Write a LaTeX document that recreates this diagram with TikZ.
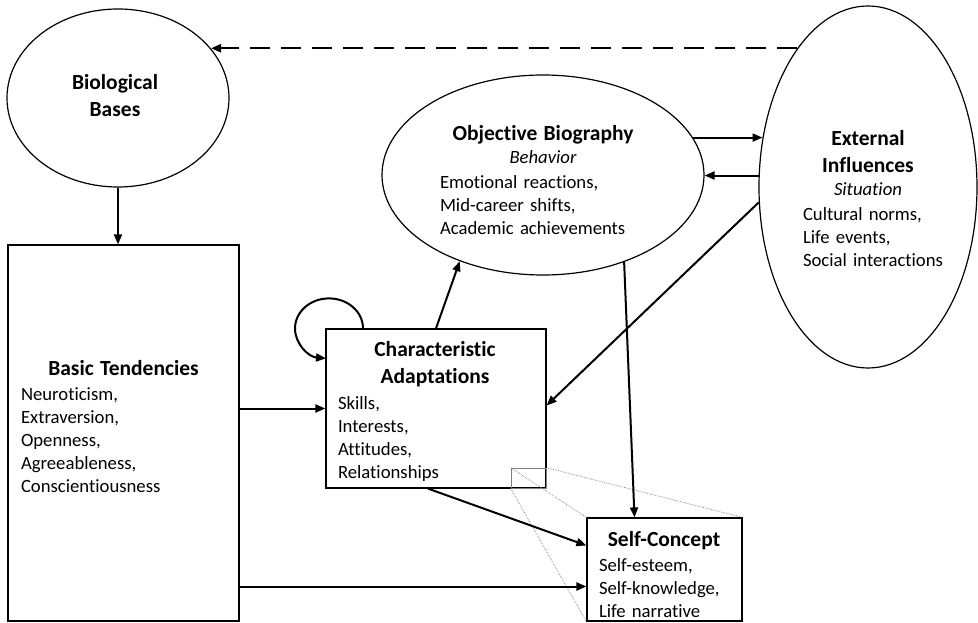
\documentclass[tikz,border=0pt]{standalone}
\usepackage{fontspec}
\setmainfont{Carlito}[Ligatures=NoCommon]
\usetikzlibrary{shapes.geometric,arrows.meta}

\newcommand\ttlfont{\fontsize{21.5}{27.5}\selectfont\bfseries}
\newcommand\txtfont{\fontsize{18.7}{23}\selectfont}
\newcommand\itemlines[1]{\vspace{2.5pt}\noindent\begin{tabular}[t]{@{}l@{}}#1\end{tabular}}

\tikzset{
  shp/.style={draw, line width=1.2pt, inner sep=0pt},
  oval/.style={shp, ellipse},
  box/.style={shp, rectangle},
  txt/.style={text width=#1, inner sep=0pt, anchor=north, font=\txtfont},
  conn/.style={line width=2pt, -{Triangle[length=10pt,width=8pt]}},
  zoomline/.style={gray, line width=0.7pt, densely dotted},
}

\begin{document}
\begin{tikzpicture}[x=1pt,y=-1pt]
\useasboundingbox (0,0) rectangle (978,623);

% shapes
\node[oval, minimum width=222, minimum height=178] (bio) at (118,98) {};
\node[box, minimum width=231, minimum height=376] (bt) at (123.5,433) {};
\node[box, minimum width=220, minimum height=159] (ca) at (436,408.5) {};
\node[box, minimum width=155, minimum height=103] (sc) at (664.5,569.5) {};
\node[oval, minimum width=322, minimum height=200] (ob) at (543,175) {};
\node[oval, minimum width=218, minimum height=362] (ei) at (868,187) {};

% texts
\node[txt=130] (biotext) at (115,74) {{\centering\ttlfont Biological\\Bases\par}};
\node[txt=205] (bttext) at (123.5,360) {{\centering\ttlfont Basic Tendencies\par}
  \itemlines{Neuroticism,\\Extraversion,\\Openness,\\Agreeableness,\\Conscientiousness}};
\node[txt=194] (catext) at (435,341) {{\centering\ttlfont Characteristic\\Adaptations\par}
  \itemlines{Skills,\\Interests,\\Attitudes,\\Relationships}};
\node[txt=130] (sctext) at (664,531) {{\centering\ttlfont Self-Concept\par}
  \itemlines{Self-esteem,\\Self-knowledge,\\Life narrative}};
\node[txt=206] (obtext) at (543,125) {{\centering{\ttlfont Objective Biography}\\\itshape Behavior\par}
  \itemlines{Emotional reactions,\\Mid-career shifts,\\Academic achievements}};
\node[txt=130] (eitext) at (868,130) {{\centering{\ttlfont External\\[4pt]Influences}\\\itshape Situation\par}
  \itemlines{Cultural norms,\\Life events,\\Social interactions}};

% zoom callout
\node[draw, gray, line width=0.8pt, inner sep=0pt, minimum width=35, minimum height=20,
  anchor=south east] (zm) at (ca.south east) {};
\draw[zoomline] (zm.north west) -- (sc.north west)
  (zm.north east) -- (sc.north east)
  (zm.south west) -- (sc.south west);

% connectors
\draw[conn] (bio) -- (bio |- bt.north);
\draw[conn, line width=2.4pt, dash pattern=on 20pt off 11pt] (ei.117) -- (bio.28 |- ei.117);
\draw[conn] (ob.14) -- (ob.14 -| ei.155);
\draw[conn] (ei.174) -- (ei.174 -| ob.east);
\draw[conn] (ei.188) -- ([yshift=3]ca.east);
\draw[conn] (ca.north) -- (ob.226);
\draw[conn] (ob.313) -- ([xshift=-30]sc.north);
\draw[conn] ([xshift=-8]ca.south) -- ([yshift=24]sc.west);
\draw[conn] (bt.east |- ca.west) -- (ca.west);
\coordinate (scin) at ([yshift=-17]sc.west);
\draw[conn] (bt.east |- scin) -- (scin);
\draw[conn] ([xshift=-73]ca.north) arc[start angle=0, end angle=-265, x radius=34, y radius=30];
\end{tikzpicture}
\end{document}
